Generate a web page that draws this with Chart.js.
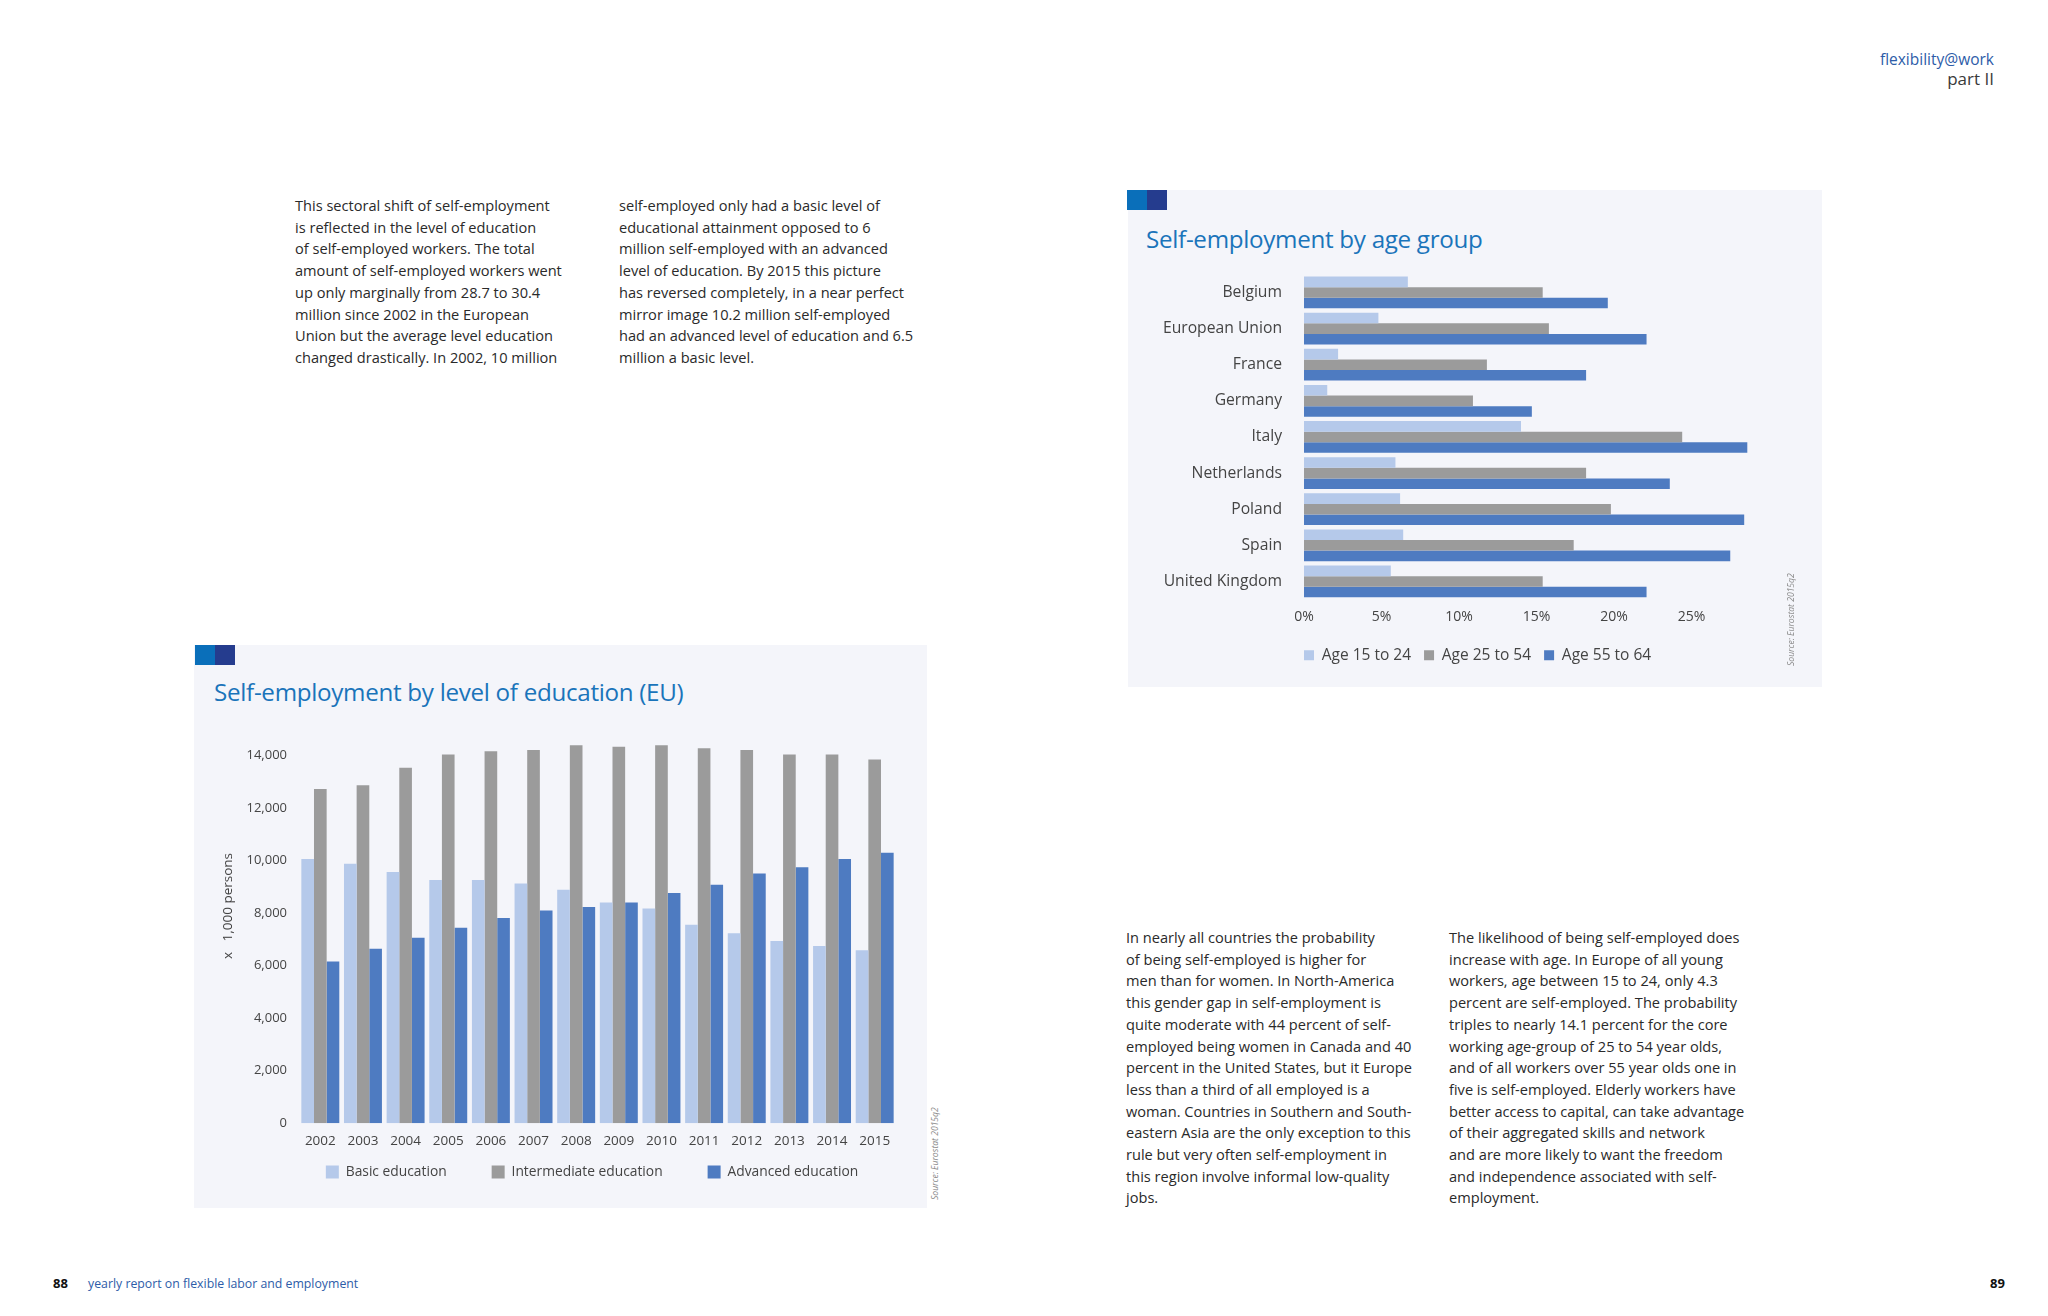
<!DOCTYPE html>
<html>
<head>
<meta charset="utf-8">
<script src="https://cdn.jsdelivr.net/npm/chart.js@4.4.1/dist/chart.umd.min.js"></script>
<style>
  html, body { margin: 0; padding: 0; background: #ffffff; }
  body { width: 2048px; height: 1316px; position: relative; overflow: hidden; font-family: "Open Sans", "Noto Sans", sans-serif; }
  .abs { position: absolute; }
  .para { font-size: 14.6px; line-height: 21.7px; color: #2a2a2a; white-space: nowrap; }
  .panel { background: #f4f5fa; }
  .icon { width: 40px; height: 20px; }
  .icon span { display: inline-block; width: 20px; height: 20px; vertical-align: top; }
  .title { font-size: 24.2px; color: #1a74ba; white-space: nowrap; letter-spacing: -0.3px; }
  .source { font-size: 8.6px; font-style: italic; color: #8a8a8a; white-space: nowrap; transform-origin: 0 0; transform: rotate(-90deg); }
  .ytitle { width: 160px; height: 18px; line-height: 18px; text-align: center; font-size: 13.5px; color: #444; white-space: pre; transform: rotate(-90deg); }
</style>
</head>
<body>
<script>
// ---------- Data ----------
const years = ["2002","2003","2004","2005","2006","2007","2008","2009","2010","2011","2012","2013","2014","2015"];
const basicEducation = [10060, 9880, 9570, 9260, 9260, 9130, 8890, 8400, 8180, 7560, 7230, 6940, 6750, 6590];
const intermediateEducation = [12730, 12870, 13540, 14040, 14160, 14210, 14390, 14340, 14390, 14280, 14210, 14040, 14040, 13850];
const advancedEducation = [6160, 6640, 7060, 7440, 7810, 8100, 8230, 8400, 8770, 9080, 9510, 9750, 10060, 10300];
const educationLabels = ["Basic education", "Intermediate education", "Advanced education"];
const personTicks = [0, 2000, 4000, 6000, 8000, 10000, 12000, 14000];

const countries = ["Belgium","European Union","France","Germany","Italy","Netherlands","Poland","Spain","United Kingdom"];
const age15to24 = [6.7, 4.8, 2.2, 1.5, 14.0, 5.9, 6.2, 6.4, 5.6];
const age25to54 = [15.4, 15.8, 11.8, 10.9, 24.4, 18.2, 19.8, 17.4, 15.4];
const age55to64 = [19.6, 22.1, 18.2, 14.7, 28.6, 23.6, 28.4, 27.5, 22.1];
const ageLabels = ["Age 15 to 24", "Age 25 to 54", "Age 55 to 64"];
const percentTicks = [0, 5, 10, 15, 20, 25];
</script>

<!-- header -->
<div class="abs" style="right:54px; top:48px; font-size:15.5px; color:#2d5ca8; white-space:nowrap;">flexibility@work</div>
<div class="abs" style="right:54px; top:67px; font-size:17px; color:#3a3a3a; white-space:nowrap;">part II</div>

<!-- top-left paragraphs -->
<div class="abs para" style="left:295px; top:195px;">This sectoral shift of self-employment<br>is reflected in the level of education<br>of self-employed workers. The total<br>amount of self-employed workers went<br>up only marginally from 28.7 to 30.4<br>million since 2002 in the European<br>Union but the average level education<br>changed drastically. In 2002, 10 million</div>
<div class="abs para" style="left:619px; top:195px;">self-employed only had a basic level of<br>educational attainment opposed to 6<br>million self-employed with an advanced<br>level of education. By 2015 this picture<br>has reversed completely, in a near perfect<br>mirror image 10.2 million self-employed<br>had an advanced level of education and 6.5<br>million a basic level.</div>

<!-- bottom-right paragraphs -->
<div class="abs para" style="left:1126px; top:927px;">In nearly all countries the probability<br>of being self-employed is higher for<br>men than for women. In North-America<br>this gender gap in self-employment is<br>quite moderate with 44 percent of self-<br>employed being women in Canada and 40<br>percent in the United States, but it Europe<br>less than a third of all employed is a<br>woman. Countries in Southern and South-<br>eastern Asia are the only exception to this<br>rule but very often self-employment in<br>this region involve informal low-quality<br>jobs.</div>
<div class="abs para" style="left:1449px; top:927px;">The likelihood of being self-employed does<br>increase with age. In Europe of all young<br>workers, age between 15 to 24, only 4.3<br>percent are self-employed. The probability<br>triples to nearly 14.1 percent for the core<br>working age-group of 25 to 54 year olds,<br>and of all workers over 55 year olds one in<br>five is self-employed. Elderly workers have<br>better access to capital, can take advantage<br>of their aggregated skills and network<br>and are more likely to want the freedom<br>and independence associated with self-<br>employment.</div>

<!-- left chart panel -->
<div class="abs panel" style="left:194px; top:645px; width:733px; height:563px;"></div>
<div class="abs icon" style="left:195px; top:645px;"><span style="background:#0a6fba"></span><span style="background:#253c8e"></span></div>
<div class="abs title" style="left:214px; top:675px;">Self-employment by level of education (EU)</div>
<div class="abs" style="left:194px; top:720px; width:733px; height:506px;"><canvas id="eduChart"></canvas></div>
<div class="abs ytitle" style="left:147px; top:897px;">x   1,000 persons</div>
<div class="abs source" style="left:929px; top:1200px;">Source: Eurostat 2015q2</div>

<!-- right chart panel -->
<div class="abs panel" style="left:1128px; top:190px; width:694px; height:497px;"></div>
<div class="abs icon" style="left:1127px; top:190px;"><span style="background:#0a6fba"></span><span style="background:#253c8e"></span></div>
<div class="abs title" style="left:1146px; top:222px;">Self-employment by age group</div>
<div class="abs" style="left:1130px; top:243px; width:692px; height:445px;"><canvas id="ageChart"></canvas></div>
<div class="abs source" style="left:1785px; top:666px;">Source: Eurostat 2015q2</div>

<!-- footer -->
<div class="abs" style="left:53px; top:1274px; font-size:13px; font-weight:bold; color:#111;">88</div>
<div class="abs" style="left:88px; top:1275px; font-size:12.3px; color:#2d5ca8; white-space:nowrap;">yearly report on flexible labor and employment</div>
<div class="abs" style="left:1990px; top:1274px; font-size:13px; font-weight:bold; color:#111;">89</div>

<script>
const FONT = '"Open Sans", "Noto Sans", sans-serif';
const COL_LIGHT = '#b5c9ea';
const COL_GRAY = '#9b9b9b';
const COL_BLUE = '#4e7bc1';

Chart.defaults.font.family = FONT;
Chart.defaults.color = '#444';

// Moves the legend box after layout (to place it like the printed original)
const legendShift = {
  id: 'legendShift',
  afterLayout(chart, args, opts) {
    const l = chart.legend;
    if (!l) return;
    const dx = opts.dx || 0, dy = opts.dy || 0;
    l.left += dx; l.right += dx; l.top += dy; l.bottom += dy;
  }
};

new Chart(document.getElementById('eduChart'), {
  type: 'bar',
  plugins: [legendShift],
  data: {
    labels: years,
    datasets: [
      { label: educationLabels[0], data: basicEducation, backgroundColor: COL_LIGHT },
      { label: educationLabels[1], data: intermediateEducation, backgroundColor: COL_GRAY },
      { label: educationLabels[2], data: advancedEducation, backgroundColor: COL_BLUE }
    ]
  },
  options: {
    responsive: true,
    maintainAspectRatio: false,
    animation: false,
    datasets: { bar: { barPercentage: 1.0, categoryPercentage: 0.89, borderWidth: 0 } },
    layout: { padding: { left: 0, right: 31, top: 16, bottom: 0 } },
    plugins: {
      tooltip: { enabled: false },
      legendShift: { dx: 47, dy: -37 },
      legend: {
        position: 'bottom',
        fullSize: true,
        labels: { boxWidth: 13, boxHeight: 13, padding: 45, font: { size: 13.8 }, color: '#444' }
      }
    },
    scales: {
      x: {
        grid: { display: false, drawTicks: false },
        border: { display: false },
        ticks: { font: { size: 13.5 }, color: '#444', padding: 10, maxRotation: 0, autoSkip: false },
        afterFit: s => { s.height = 34; }
      },
      y: {
        min: 0, max: 14600,
        grid: { display: false, drawTicks: false },
        border: { display: false },
        afterBuildTicks: s => { s.ticks = personTicks.map(v => ({ value: v })); },
        ticks: { font: { size: 13 }, color: '#444', padding: 12,
                 callback: v => Number(v).toLocaleString('en-US') },
        afterFit: s => { s.width = 105; }
      }
    }
  }
});

new Chart(document.getElementById('ageChart'), {
  type: 'bar',
  plugins: [legendShift],
  data: {
    labels: countries,
    datasets: [
      { label: ageLabels[0], data: age15to24, backgroundColor: COL_LIGHT },
      { label: ageLabels[1], data: age25to54, backgroundColor: COL_GRAY },
      { label: ageLabels[2], data: age55to64, backgroundColor: COL_BLUE }
    ]
  },
  options: {
    indexAxis: 'y',
    responsive: true,
    maintainAspectRatio: false,
    animation: false,
    datasets: { bar: { barPercentage: 1.0, categoryPercentage: 0.88, borderWidth: 0 } },
    layout: { padding: { left: 0, right: 53, top: 12, bottom: 14 } },
    plugins: {
      tooltip: { enabled: false },
      legendShift: { dx: -13, dy: -1 },
      legend: {
        position: 'bottom',
        align: 'start',
        fullSize: false,
        labels: { boxWidth: 10, boxHeight: 10, padding: 13, font: { size: 15.5 }, color: '#444' }
      }
    },
    scales: {
      x: {
        min: 0, max: 30,
        grid: { display: false, drawTicks: false },
        border: { display: false },
        afterBuildTicks: s => { s.ticks = percentTicks.map(v => ({ value: v })); },
        ticks: { font: { size: 14 }, color: '#444', padding: 9,
                 callback: v => v + '%' },
        afterFit: s => { s.height = 36; }
      },
      y: {
        grid: { display: false, drawTicks: false },
        border: { display: false },
        ticks: { font: { size: 15.7 }, color: '#444', padding: 22 },
        afterFit: s => { s.width = 174; }
      }
    }
  }
});
</script>
</body>
</html>
